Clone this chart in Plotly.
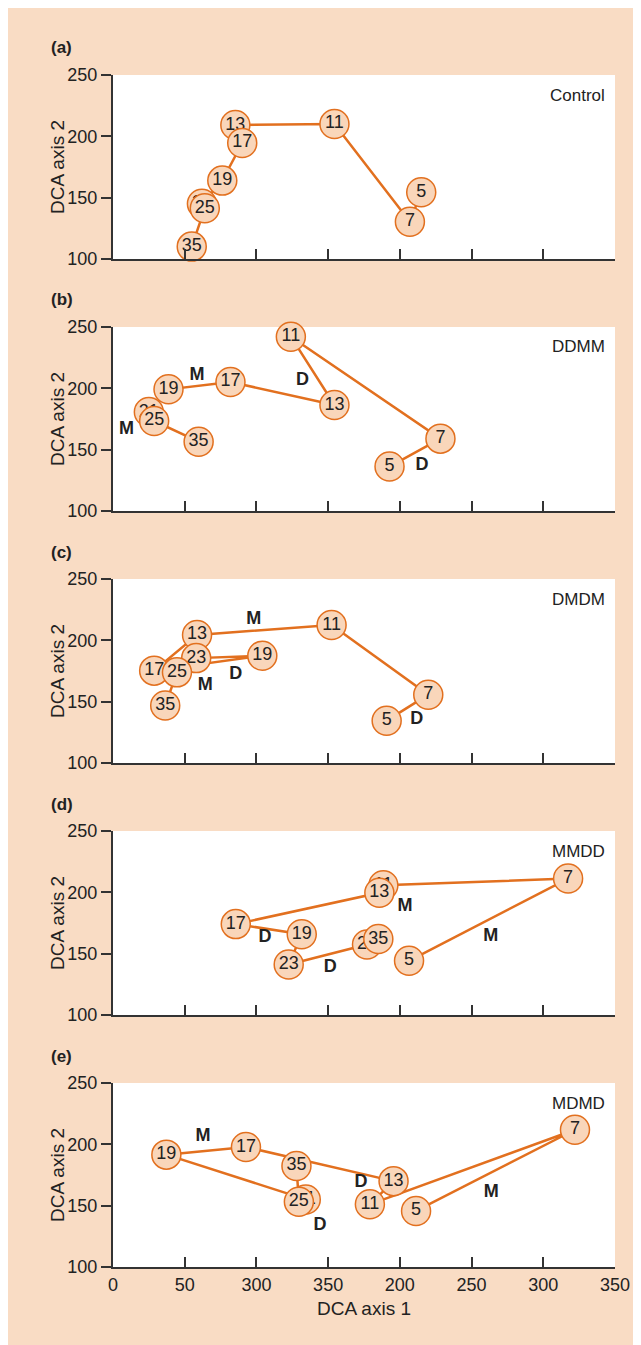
import plotly.graph_objects as go
from plotly.subplots import make_subplots

# ---------------- data ----------------
panel_tags = ["(a)", "(b)", "(c)", "(d)", "(e)"]
treatments = ["Control", "DDMM", "DMDM", "MMDD", "MDMD"]

a_days = ["5", "7", "11", "13", "17", "19", "23", "25", "35"]
a_x = [214.9, 207.0, 154.4, 85.3, 90.1, 76.2, 62.0, 64.0, 54.9]
a_y = [154.4, 130.4, 210.1, 209.2, 194.6, 163.9, 145.0, 141.3, 110.1]

b_days = ["5", "7", "11", "13", "17", "19", "21", "25", "35"]
b_x = [192.8, 228.3, 124.0, 154.4, 81.9, 38.7, 25.0, 28.7, 59.7]
b_y = [136.2, 159.0, 242.1, 186.4, 205.2, 199.2, 180.7, 173.4, 156.5]

c_days = ["5", "7", "11", "13", "17", "19", "23", "25", "35"]
c_x = [190.8, 219.8, 152.4, 58.6, 28.7, 104.1, 58.0, 44.6, 36.4]
c_y = [134.5, 155.7, 212.5, 204.4, 175.3, 187.5, 185.5, 173.9, 146.8]

d_days = ["5", "7", "11", "13", "17", "19", "23", "25", "35"]
d_x = [206.4, 317.3, 188.5, 185.7, 85.6, 131.6, 122.5, 177.1, 185.0]
d_y = [144.2, 211.2, 205.8, 199.6, 174.1, 165.9, 141.2, 157.5, 161.9]

e_days = ["5", "7", "11", "13", "17", "19", "21", "25", "35"]
e_x = [211.3, 322.1, 179.1, 195.6, 92.7, 37.2, 134.4, 129.6, 127.9]
e_y = [145.7, 211.9, 151.1, 170.0, 197.8, 191.6, 155.1, 153.2, 182.4]

# phase labels (M / D) per panel
a_lab, a_lab_x, a_lab_y = [], [], []
b_lab = ["M", "D", "M", "D"]
b_lab_x = [58.6, 132.2, 9.4, 215.5]
b_lab_y = [210.1, 206.0, 166.6, 136.7]
c_lab = ["M", "D", "M", "D"]
c_lab_x = [98.1, 85.5, 64.3, 211.8]
c_lab_y = [216.6, 171.8, 163.1, 135.3]
d_lab = ["M", "M", "D", "D"]
d_lab_x = [203.6, 263.3, 106.0, 151.5]
d_lab_y = [188.2, 163.8, 162.9, 138.8]
e_lab = ["M", "D", "D", "M"]
e_lab_x = [62.8, 172.9, 144.4, 263.8]
e_lab_y = [206.5, 168.9, 133.5, 160.5]

x_tickvals = [0, 50, 100, 150, 200, 250, 300, 350]
x_ticktext = ["0", "50", "300", "350", "200", "250", "300", "350"]
y_tickvals = [100, 150, 200, 250]

panels = [
    (a_days, a_x, a_y, a_lab, a_lab_x, a_lab_y),
    (b_days, b_x, b_y, b_lab, b_lab_x, b_lab_y),
    (c_days, c_x, c_y, c_lab, c_lab_x, c_lab_y),
    (d_days, d_x, d_y, d_lab, d_lab_x, d_lab_y),
    (e_days, e_x, e_y, e_lab, e_lab_x, e_lab_y),
]

# ---------------- style ----------------
FONT = "Liberation Sans, Arial, sans-serif"
PEACH = "#F9DCC4"
ORANGE = "#E2701F"
FILL = "#F9D6BA"
DARK = "#222222"
AXIS = "#333333"

OFF = 8                      # page body margin
W, H = 633, 1337
L, R, T, B = 105, 26, 67, 77
plot_h = H - T - B           # 1193
pw = W - L - R
panel_px = 184
step_px = 252


def px_x(page_x):
    return (page_x - OFF - L) / pw


def px_y(page_y):
    return (H - B - (page_y - OFF)) / plot_h


fig = make_subplots(rows=5, cols=1, shared_xaxes=False, vertical_spacing=0.0)

for i, (days, xs, ys, labs, lx, ly) in enumerate(panels):
    row = i + 1
    fig.add_trace(go.Scatter(x=xs, y=ys, mode="lines",
                             line=dict(color=ORANGE, width=2.5),
                             hoverinfo="skip", showlegend=False), row=row, col=1)
    for d, xv, yv in zip(days, xs, ys):
        fig.add_trace(go.Scatter(x=[xv], y=[yv], mode="markers+text", text=[d],
                                 textposition="middle center", cliponaxis=False,
                                 textfont=dict(family=FONT, size=18, color=DARK),
                                 marker=dict(size=29, color=FILL,
                                             line=dict(color=ORANGE, width=1.5)),
                                 showlegend=False), row=row, col=1)
    if labs:
        fig.add_trace(go.Scatter(x=lx, y=ly, mode="text", text=labs,
                                 textposition="middle center", cliponaxis=False,
                                 textfont=dict(family=FONT, size=18, color=DARK,
                                               weight="bold"),
                                 showlegend=False, hoverinfo="skip"), row=row, col=1)

    top_px = T + step_px * i
    bot_px = top_px + panel_px
    dom = [(H - B - bot_px) / plot_h, (H - B - top_px) / plot_h]
    xa = "xaxis" if row == 1 else f"xaxis{row}"
    ya = "yaxis" if row == 1 else f"yaxis{row}"
    last = row == 5
    fig.layout[xa].update(
        range=[0, 350], tickvals=x_tickvals, ticktext=x_ticktext,
        showticklabels=last, ticks="inside", ticklen=10, tickwidth=2,
        tickcolor=AXIS, showline=True, linecolor=AXIS, linewidth=2,
        showgrid=False, zeroline=False, mirror=False,
        tickfont=dict(family=FONT, size=18, color=DARK),
    )
    fig.layout[ya].update(
        domain=dom, range=[100, 250], tickvals=y_tickvals,
        ticks="outside", ticklen=10, tickwidth=2, tickcolor=AXIS,
        showline=True, linecolor=AXIS, linewidth=2,
        showgrid=False, zeroline=False,
        tickfont=dict(family=FONT, size=18, color=DARK),
    )

    page_top = top_px + OFF
    fig.add_annotation(xref="paper", yref="paper",
                       x=px_x(49), y=px_y(page_top - 27),
                       text=f"<b>{panel_tags[i]}</b>", showarrow=False,
                       xanchor="left", yanchor="middle",
                       font=dict(family=FONT, size=17, color=DARK))
    xr = "x domain" if row == 1 else f"x{row} domain"
    yr = "y domain" if row == 1 else f"y{row} domain"
    fig.add_annotation(xref=xr, yref=yr, x=0.985, y=1 - 20 / panel_px,
                       text=treatments[i], showarrow=False,
                       xanchor="right", yanchor="middle",
                       font=dict(family=FONT, size=17, color=DARK))
    fig.add_annotation(xref="paper", yref="paper",
                       x=px_x(57), y=px_y(page_top + 92),
                       text="DCA axis 2", textangle=-90, showarrow=False,
                       xanchor="center", yanchor="middle",
                       font=dict(family=FONT, size=19, color=DARK))

fig.add_annotation(xref="paper", yref="paper",
                   x=px_x(364), y=px_y(1308),
                   text="DCA axis 1", showarrow=False,
                   xanchor="center", yanchor="middle",
                   font=dict(family=FONT, size=19, color=DARK))

fig.update_layout(
    width=W, height=H,
    margin=dict(l=L, r=R, t=T, b=B),
    paper_bgcolor=PEACH, plot_bgcolor="white",
    showlegend=False,
    font=dict(family=FONT, color=DARK),
)

fig.write_html("out.html")
